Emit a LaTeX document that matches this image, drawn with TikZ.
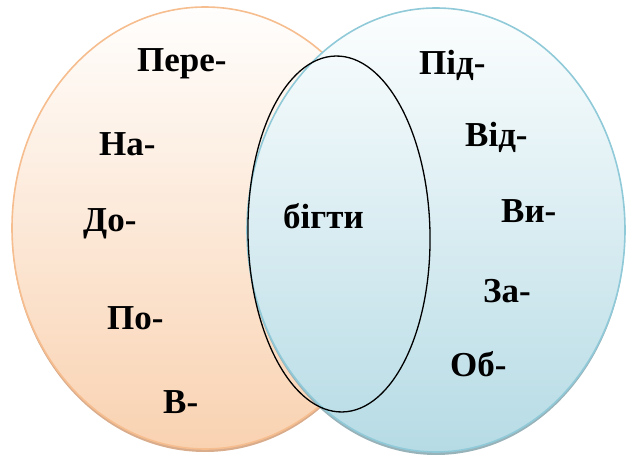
\documentclass[tikz,border=0pt]{standalone}
\usepackage{fontspec}
\setmainfont{Liberation Serif}
\begin{document}
\begin{tikzpicture}[x=1pt,y=-1pt,
  pfx/.style={font=\fontsize{35}{40}\selectfont\bfseries, anchor=base west, inner sep=0pt},
  setline/.style={line width=1.6pt}]
\definecolor{peachtop}{HTML}{FFFEFD}
\definecolor{peachbot}{HTML}{F9D2B1}
\definecolor{peachline}{HTML}{F6BD8F}
\definecolor{peachshadow}{HTML}{D9AC8C}
\definecolor{bluetop}{HTML}{FCFEFE}
\definecolor{bluebot}{HTML}{B6DBE5}
\definecolor{blueline}{HTML}{90CAD9}
\definecolor{blueshadow}{HTML}{98B2B9}
\useasboundingbox (0,0) rectangle (627,457);
% left set
\fill [peachshadow] (205,231) ellipse (193 and 221);
\shade [top color=peachtop, bottom color=peachbot, draw=peachline, setline] (205,228) ellipse (193 and 221);
% right set
\fill [blueshadow] (436,233) ellipse (189 and 222);
\shade [top color=bluetop, bottom color=bluebot, draw=blueline, setline] (436,230) ellipse (189 and 222);
% common part
\draw [line width=1.3pt, rotate around={1.1:(339,234)}] (339,234) ellipse (91 and 178);

\node[pfx] (pere) at (137,72) {Пере-};
\node[pfx] (na) at (99,156) {На-};
\node[pfx] (do) at (83,232) {До-};
\node[pfx] (po) at (107,330) {По-};
\node[pfx] (v) at (163,413) {В-};

\node[pfx] (bihty) at (283,229) {бігти};

\node[pfx] (pid) at (419,75) {Під-};
\node[pfx] (vid) at (465,147) {Від-};
\node[pfx] (vy) at (501,223) {Ви-};
\node[pfx] (za) at (483,302) {За-};
\node[pfx] (ob) at (450,377) {Об-};
\end{tikzpicture}
\end{document}
